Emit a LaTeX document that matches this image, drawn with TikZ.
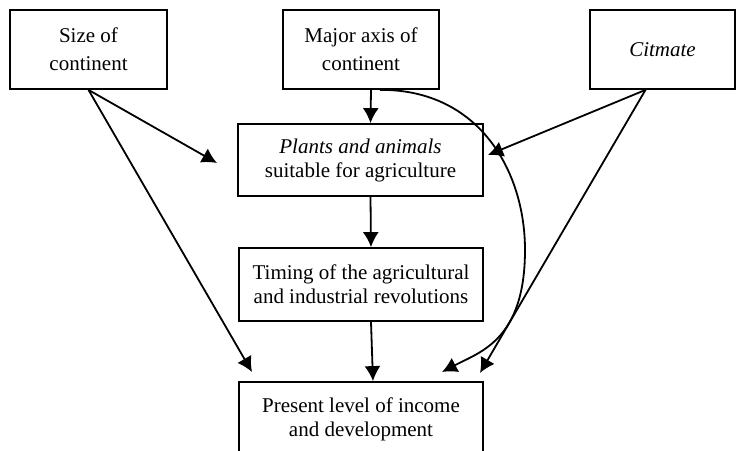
\documentclass[tikz,border=0pt]{standalone}
\usepackage{fontspec}
\setmainfont{Liberation Serif}
\usetikzlibrary{arrows.meta,calc}

\begin{document}
\begin{tikzpicture}[x=0.5pt, y=-0.5pt,
            box/.style={draw, line width=0.9pt, align=center, inner sep=0pt,
                        font=\fontsize{10.5}{12}\selectfont},
            topbox/.style={box, minimum height=39.5pt, font=\fontsize{10.5}{14}\selectfont},
            arr/.style={-{Latex[length=7.5pt,width=8pt]}, line width=0.9pt}]
        \clip (0,0) rectangle (736,451);
        \node[topbox, minimum width=78.5pt] (size) at (88.5,49.5) {Size of\\continent};
        \node[topbox, minimum width=78pt] (major) at (361,49.5) {Major axis of\\continent};
        \node[topbox, minimum width=72.5pt] (climate) at (662.5,49.5) {\textit{Citmate}};
        \node[box, minimum width=122.5pt, minimum height=36pt] (plants) at (360.5,160)
            {\textit{Plants and animals}\\suitable for agriculture};
        \node[box, minimum width=122pt, minimum height=36.5pt] (timing) at (361,284.5)
            {Timing of the agricultural\\and industrial revolutions};
        \node[box, minimum width=122pt, minimum height=37pt] (present) at (361,419)
            {Present level of income\\and development};
        % free ends of the arrows
        \coordinate (sizetip) at (217,163);
        \coordinate (sizelow) at (252,372);
        \coordinate (climatetip) at (488,155);
        \coordinate (climatelow) at (480,373);
        \coordinate (curvetip) at (442,372);
        \draw[arr] (size.south) -- (sizetip);
        \draw[arr] (size.south) -- (sizelow);
        \draw[arr] ([xshift=-8.5pt]climate.south) -- (climatetip);
        \draw[arr] ([xshift=-8.5pt]climate.south) -- (climatelow);
        \draw[arr] ([xshift=5pt]major.south) -- ([xshift=5pt]plants.north);
        \draw[arr] ([xshift=5pt]plants.south) -- ([xshift=5pt]timing.north);
        \draw[arr] ([xshift=5pt]timing.south) -- ([xshift=6pt]present.north);
        \draw[arr] ([xshift=9.5pt]major.south) .. controls (478,89) and (525,170) .. (525,250)
            .. controls (525,340) and (480,352) .. (curvetip);
\end{tikzpicture}
\end{document}
